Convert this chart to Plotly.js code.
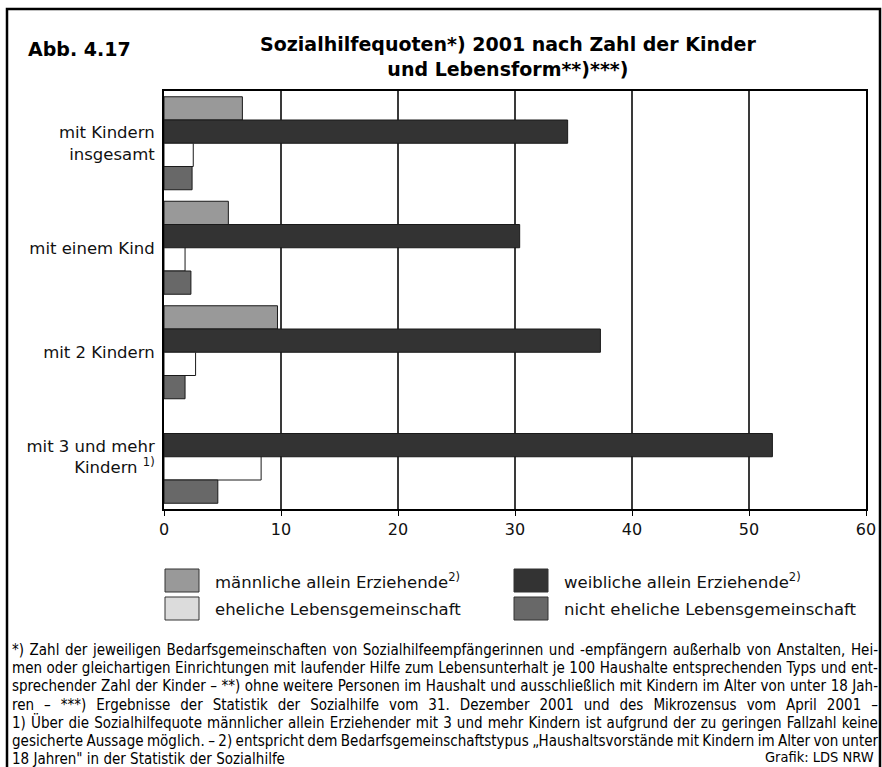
<!DOCTYPE html>
<html>
<head>
<meta charset="utf-8">
<script src="https://cdn.plot.ly/plotly-3.0.1.min.js"></script>
<style>html,body{margin:0;padding:0;background:#fff;}#chart{width:882px;height:767px;}</style>
</head>
<body>
<div id="chart"></div>
<script>
// ---- data ----
const categories = ["mit Kindern<br>insgesamt", "mit einem Kind", "mit 2 Kindern", "mit 3 und mehr<br>Kindern <sup>1)</sup>"];
const seriesNames = ["männliche allein Erziehende<sup>2)</sup>", "weibliche allein Erziehende<sup>2)</sup>", "eheliche Lebensgemeinschaft", "nicht eheliche Lebensgemeinschaft"];
const maennlich = [6.7, 5.5, 9.7, null];
const weiblich = [34.5, 30.4, 37.3, 52.0];
const ehelich = [2.5, 1.8, 2.7, 8.3];
const nichtEhelich = [2.4, 2.3, 1.8, 4.6];
const xTicks = [0, 10, 20, 30, 40, 50, 60];
const footnotes = [
  "*) Zahl der jeweiligen Bedarfsgemeinschaften von Sozialhilfeempfängerinnen und -empfängern außerhalb von Anstalten, Hei-",
  "men oder gleichartigen Einrichtungen mit laufender Hilfe zum Lebensunterhalt je 100 Haushalte entsprechenden Typs und ent-",
  "sprechender Zahl der Kinder – **) ohne weitere Personen im Haushalt und ausschließlich mit Kindern im Alter von unter 18 Jah-",
  "ren – ***) Ergebnisse der Statistik der Sozialhilfe vom 31. Dezember 2001 und des Mikrozensus vom April 2001 –",
  "1) Über die Sozialhilfequote männlicher allein Erziehender mit 3 und mehr Kindern ist aufgrund der zu geringen Fallzahl keine",
  "gesicherte Aussage möglich. – 2) entspricht dem Bedarfsgemeinschaftstypus „Haushaltsvorstände mit Kindern im Alter von unter",
  "18 Jahren\" in der Statistik der Sozialhilfe"
];
const sourceText = "Grafik: LDS NRW";

// ---- styles ----
const fills = ["#999999", "#333333", "#ffffff", "#686868"];
const swatchFills = ["#999999", "#333333", "#dcdcdc", "#686868"];
const FONT = "DejaVu Sans, sans-serif";
const NARROW = "Liberation Sans Narrow, DejaVu Sans Condensed, sans-serif";

const L = 164, R = 866, T = 91, B = 509, W = 882, H = 767;
const xp = px => (px - L) / (R - L);
const yp = py => (B - py) / (B - T);

const seriesData = [maennlich, weiblich, ehelich, nichtEhelich];
const traces = seriesData.map((vals, i) => ({
  type: "bar",
  orientation: "h",
  name: seriesNames[i],
  y: categories,
  x: vals,
  marker: {color: fills[i], line: {color: "#1a1a1a", width: 1}},
  hoverinfo: "x"
}));

const shapes = [];
const annotations = [];

// outer frame
shapes.push({type: "rect", xref: "paper", yref: "paper", x0: xp(7), x1: xp(880), y0: yp(800), y1: yp(9),
  line: {color: "#000", width: 2.5}, fillcolor: "rgba(0,0,0,0)", layer: "below"});

// titles
annotations.push({xref: "paper", yref: "paper", x: xp(26), y: yp(49), xanchor: "left", yanchor: "middle",
  text: "<b>Abb. 4.17</b>", showarrow: false, font: {family: FONT, size: 19, color: "#000"}});
annotations.push({xref: "paper", yref: "paper", x: xp(508), y: yp(57), xanchor: "center", yanchor: "middle",
  text: "<b>Sozialhilfequoten*) 2001 nach Zahl der Kinder<br>und Lebensform**)***)</b>", showarrow: false,
  align: "center", font: {family: FONT, size: 19, color: "#000"}});

// legend (manual, two columns)
const legPos = [[165, 569], [514, 569], [165, 597], [514, 597]];
legPos.forEach((p, i) => {
  shapes.push({type: "rect", xref: "paper", yref: "paper", x0: xp(p[0]), x1: xp(p[0] + 34), y0: yp(p[1] + 23), y1: yp(p[1]),
    line: {color: "#333", width: 1}, fillcolor: swatchFills[i]});
  annotations.push({xref: "paper", yref: "paper", x: xp(p[0] + 48), y: yp(p[1] + 12), xanchor: "left", yanchor: "middle",
    text: seriesNames[i], showarrow: false, font: {family: FONT, size: 16.5, color: "#111"}});
});

// footnotes (one block; line pitch and justification adjusted after rendering)
const FN_TOP = 639, FN_SIZE = 15, FN_PITCH = 18.2;
annotations.push({xref: "paper", yref: "paper", x: xp(10), y: yp(FN_TOP), xanchor: "left", yanchor: "top",
  text: footnotes.join("<br>"), showarrow: false, align: "left",
  font: {family: NARROW, size: FN_SIZE, color: "#000"}});
annotations.push({xref: "paper", yref: "paper", x: xp(876), y: yp(FN_TOP + 9 + 6 * FN_PITCH), xanchor: "right", yanchor: "middle",
  text: sourceText, showarrow: false, font: {family: NARROW, size: 14.5, color: "#000"}});

const layout = {
  width: W, height: H,
  margin: {l: L, r: W - R, t: T, b: H - B, pad: 0},
  paper_bgcolor: "#fff", plot_bgcolor: "#fff",
  barmode: "group", bargap: 0.11, bargroupgap: 0,
  showlegend: false,
  font: {family: FONT, color: "#111"},
  xaxis: {range: [0, 60], tickvals: xTicks, ticktext: xTicks.map(String), showgrid: true, gridcolor: "#3a3a3a", gridwidth: 1.2,
    zeroline: false, showline: true, linecolor: "#000", linewidth: 2, mirror: true,
    ticks: "outside", ticklen: 5, tickcolor: "#000", tickfont: {family: FONT, size: 16, color: "#111"}, fixedrange: true},
  yaxis: {autorange: "reversed", showgrid: false, showline: true, linecolor: "#000", linewidth: 2, mirror: true,
    ticks: "", ticklabelstandoff: 4, tickfont: {family: FONT, size: 16.5, color: "#111"}, fixedrange: true},
  shapes: shapes,
  annotations: annotations
};

Plotly.newPlot("chart", traces, layout, {displayModeBar: false, staticPlot: true}).then(gd => {
  const target = 876 - 10;
  const ratio = FN_PITCH / (1.3 * FN_SIZE);
  gd.querySelectorAll(".annotation-text").forEach(t => {
    if (t.textContent.indexOf("Zahl der jeweiligen") < 0) return;
    const lines = t.querySelectorAll("tspan.line");
    lines.forEach((ln, i) => {
      // tighten the line pitch
      const dy = ln.getAttribute("dy");
      if (dy) {
        const m = dy.match(/^(-?[\d.]+)(.*)$/);
        if (m && parseFloat(m[1]) !== 0) ln.setAttribute("dy", (parseFloat(m[1]) * ratio).toFixed(4) + m[2]);
      }
      // justify lines 1-6
      if (i < footnotes.length - 1) {
        const len = ln.getComputedTextLength();
        const spaces = (footnotes[i].match(/ /g) || []).length;
        if (spaces > 0) ln.style.wordSpacing = ((target - len) / spaces).toFixed(2) + "px";
      }
    });
  });
});
</script>
</body>
</html>
